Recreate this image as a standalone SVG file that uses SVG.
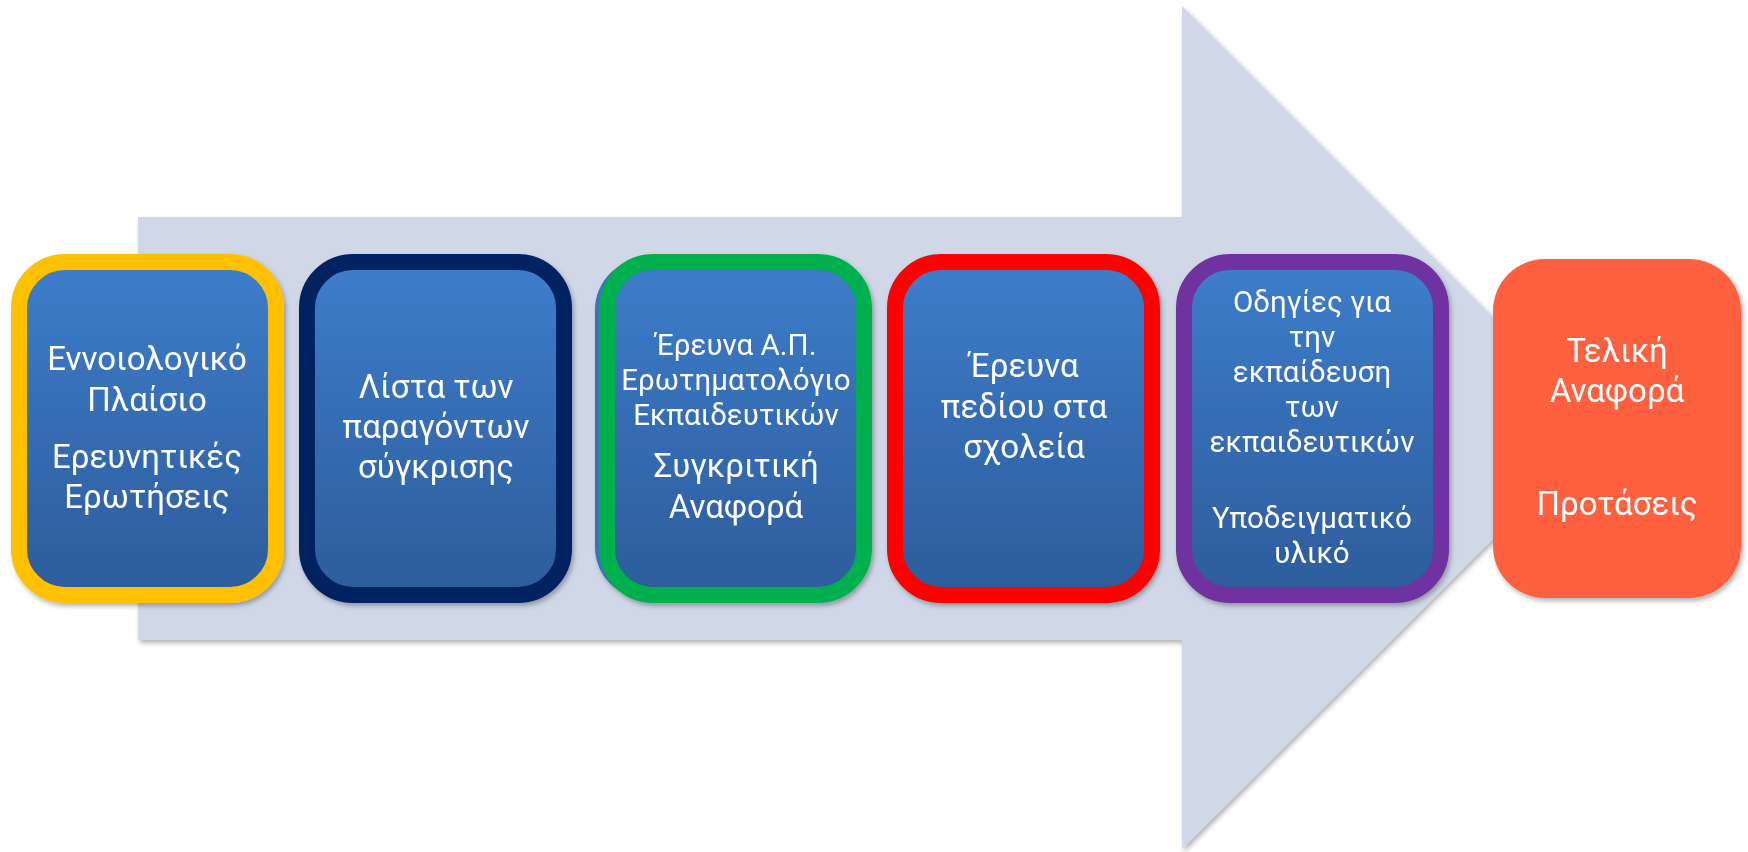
<svg xmlns="http://www.w3.org/2000/svg" width="1748" height="852" viewBox="0 0 1748 852">
<style>
.box{stroke-width:16;fill:url(#blue)}
.t{font-family:Roboto,"Open Sans",sans-serif;fill:#fff;text-anchor:middle}
.L{font-size:33px}
.S{font-size:29.5px}
</style>
<defs>
<linearGradient id="blue" x1="0" y1="0" x2="0" y2="1">
<stop offset="0" stop-color="#3D7DCB"/>
<stop offset="1" stop-color="#2D5C9B"/>
</linearGradient>
<filter id="sh" x="-10%" y="-10%" width="120%" height="120%">
<feDropShadow dx="2" dy="3" stdDeviation="2.5" flood-color="#000" flood-opacity="0.3"/>
</filter>
</defs>
<g id="arrow">
<polygon points="138,217 1182,217 1182,6 1604,428 1182,849 1182,640 138,640" fill="#D0D8E8" filter="url(#sh)"/>
</g>
<g id="n1" filter="url(#sh)">
<rect class="box" x="19" y="262" width="257" height="333" rx="46" stroke="#FFC000"/>
<text class="t L" x="147" y="370">Εννοιολογικό</text>
<text class="t L" x="147" y="411">Πλαίσιο</text>
<text class="t L" x="147" y="468">Ερευνητικές</text>
<text class="t L" x="147" y="508">Ερωτήσεις</text>
</g>
<g id="n2" filter="url(#sh)">
<rect class="box" x="307" y="262" width="257" height="333" rx="46" stroke="#002060"/>
<text class="t L" x="436" y="398">Λίστα των</text>
<text class="t L" x="436" y="438">παραγόντων</text>
<text class="t L" x="436" y="478">σύγκρισης</text>
</g>
<g id="n3" filter="url(#sh)">
<rect x="595" y="258" width="265" height="341" rx="52" fill="#3A72BA"/>
<rect class="box" x="607" y="262" width="257" height="333" rx="46" stroke="#00B050"/>
<text class="t S" x="736" y="355">Έρευνα Α.Π.</text>
<text class="t S" x="736" y="390">Ερωτηματολόγιο</text>
<text class="t S" x="736" y="425">Εκπαιδευτικών</text>
<text class="t L" x="736" y="477">Συγκριτική</text>
<text class="t L" x="736" y="518">Αναφορά</text>
</g>
<g id="n4" filter="url(#sh)">
<rect class="box" x="895" y="262" width="257" height="333" rx="46" stroke="#FF0000"/>
<text class="t L" x="1024" y="377">Έρευνα</text>
<text class="t L" x="1024" y="418">πεδίου στα</text>
<text class="t L" x="1024" y="458">σχολεία</text>
</g>
<g id="n5" filter="url(#sh)">
<rect class="box" x="1184" y="262" width="257" height="333" rx="46" stroke="#7030A0"/>
<text class="t S" x="1312" y="312">Οδηγίες για</text>
<text class="t S" x="1312" y="347">την</text>
<text class="t S" x="1312" y="382">εκπαίδευση</text>
<text class="t S" x="1312" y="417">των</text>
<text class="t S" x="1312" y="452">εκπαιδευτικών</text>
<text class="t S" x="1312" y="528">Υποδειγματικό</text>
<text class="t S" x="1312" y="563">υλικό</text>
</g>
<g id="n6" filter="url(#sh)">
<rect x="1493" y="259" width="248" height="339" rx="52" fill="#FF613F"/>
<text class="t L" x="1617" y="362">Τελική</text>
<text class="t L" x="1617" y="402">Αναφορά</text>
<text class="t L" x="1617" y="515">Προτάσεις</text>
</g>
<g id="connectors"/>
</svg>
